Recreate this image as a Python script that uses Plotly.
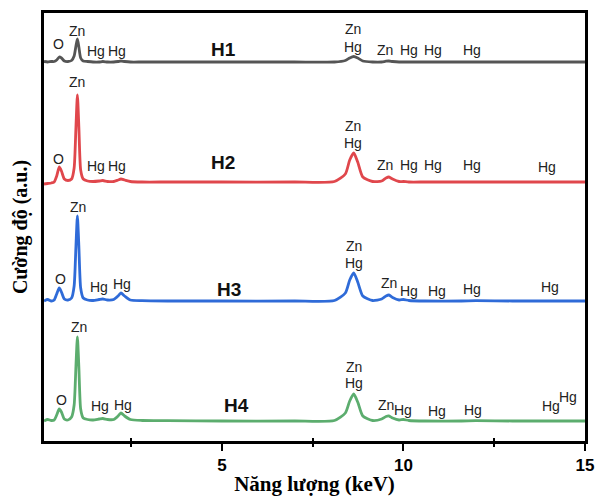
import plotly.graph_objects as go

# ---------------- data ----------------
energy_kev = [0.10, 0.20, 0.30, 0.38, 0.45, 0.52, 0.58, 0.66, 0.76, 0.86,
              0.93, 0.98, 1.02, 1.06, 1.11, 1.18, 1.30, 1.45, 1.62, 1.72,
              1.85, 2.02, 2.14, 2.22, 2.32, 2.48, 2.80, 3.50, 5.00, 7.00,
              8.10, 8.40, 8.52, 8.63, 8.74, 8.88, 9.15, 9.40, 9.52, 9.60,
              9.70, 9.88, 10.00, 10.15, 10.60, 11.60, 12.00, 13.00, 14.00, 15.00]

h1_counts = [0.5, 0, 0.5, 0.5, 2, 5, 4, 1, 0.5, 1.5,
             6, 16, 23, 15, 4, 1, 0.5, 0, 0, 0.5,
             0, 0, 0.5, 1, 0.5, 0, 0, 0, 0, 0,
             0, 1.5, 4, 5.5, 4, 1, 0, 0, 0.8, 1,
             0.5, 0, 0, 0, 0, 0, 0, 0, 0, 0]

h2_counts = [-2, -1.5, -1, 0, 6, 15, 11, 3, 1.5, 3,
             14, 55, 87, 55, 12, 3, 1, 0.5, 1, 1.5,
             0.5, 0.5, 2, 3, 2, 0.5, 0, 0, 0, 0,
             0.5, 8, 22, 29, 20, 5, 0.5, 1, 4, 5,
             3, 0.5, 0.5, 0, 0, 0, 0, 0, 0, 0]

h3_counts = [0, 1.5, 0, 1, 7, 13, 9, 2, 1, 3,
             15, 55, 85, 55, 13, 3, 1, 0.5, 1.5, 2,
             1, 1.5, 5, 8, 5, 1, 0.3, 0, 0, 0,
             0.5, 8, 21, 28, 19, 5, 0.5, 2, 5, 6,
             3.5, 1, 1.5, 0.5, 0, 0, 0.3, 0, 0, 0]

h4_counts = [0, 1.5, 0.5, 1, 6, 12, 9, 2, 1, 4,
             16, 55, 84, 54, 12, 3, 1.5, 1, 2, 2.5,
             1.5, 1.5, 5, 8, 5, 1.5, 0.5, 0.3, 0, 0,
             0.5, 8, 20, 27, 19, 5, 0.5, 2, 4.5, 5,
             3, 1, 1.5, 0.5, 0, 0, 0.3, 0, 0, 0]

sample_names = ["H1", "H2", "H3", "H4"]
sample_offsets = [379, 259, 140, 20]
sample_colors = ["#555555", "#e0474c", "#2f6bd8", "#5cad6e"]

# peak labels: (text, energy keV, height above baseline)
h1_labels = [("O", 0.49, 18), ("Zn", 1.02, 31), ("Hg", 1.54, 11), ("Hg", 2.12, 11),
             ("Zn", 8.60, 33), ("Hg", 8.60, 15), ("Zn", 9.48, 12), ("Hg", 10.16, 12),
             ("Hg", 10.82, 12), ("Hg", 11.90, 12)]
h2_labels = [("O", 0.49, 23), ("Zn", 1.02, 100), ("Hg", 1.54, 16), ("Hg", 2.12, 16),
             ("Zn", 8.60, 56), ("Hg", 8.60, 39), ("Zn", 9.48, 17), ("Hg", 10.16, 17),
             ("Hg", 10.82, 17), ("Hg", 11.90, 17), ("Hg", 13.96, 15)]
h3_labels = [("O", 0.55, 22), ("Zn", 1.04, 94), ("Hg", 1.62, 14), ("Hg", 2.25, 17),
             ("Zn", 8.65, 55), ("Hg", 8.65, 38), ("Zn", 9.59, 18), ("Hg", 10.14, 10),
             ("Hg", 10.93, 10), ("Hg", 11.90, 12), ("Hg", 14.04, 14)]
h4_labels = [("O", 0.58, 21), ("Zn", 1.07, 94), ("Hg", 1.65, 15), ("Hg", 2.28, 16),
             ("Zn", 8.63, 54), ("Hg", 8.63, 38), ("Zn", 9.53, 16), ("Hg", 10.00, 11),
             ("Hg", 10.93, 10), ("Hg", 11.92, 11), ("Hg", 14.07, 15), ("Hg", 14.53, 24)]
name_label_pos = [(5.03, 13), (5.03, 20), (5.19, 12), (5.41, 16)]

x_tick_vals = [5, 10, 15]
x_tick_text = ["5", "10", "15"]
x_minor_vals = [2.5, 7.5, 12.5]

# ---------------- figure ----------------
series = [h1_counts, h2_counts, h3_counts, h4_counts]
label_sets = [h1_labels, h2_labels, h3_labels, h4_labels]
sans = "Liberation Sans, Arial"
serif = "Liberation Serif, Times New Roman"

fig = go.Figure()
for name, counts, off, col in zip(sample_names, series, sample_offsets, sample_colors):
    fig.add_trace(go.Scatter(
        x=energy_kev, y=[c + off for c in counts], mode="lines", name=name,
        line=dict(color=col, width=2.8, shape="spline", smoothing=0.6),
        showlegend=False, hoverinfo="skip"))
# invisible trace to activate the overlay axis carrying the inner half of the minor ticks
fig.add_trace(go.Scatter(x=[energy_kev[0], energy_kev[-1]], y=[None, None], xaxis="x2",
                         mode="lines", showlegend=False, hoverinfo="skip"))

annotations = []
for labels, off in zip(label_sets, sample_offsets):
    for text, ex, hy in labels:
        annotations.append(dict(x=ex, y=off + hy, text=text, showarrow=False,
                                xref="x", yref="y",
                                font=dict(family=sans, size=14, color="#222222")))
for name, (ex, hy), off in zip(sample_names, name_label_pos, sample_offsets):
    annotations.append(dict(x=ex, y=off + hy, text=name, showarrow=False,
                            xref="x", yref="y",
                            font=dict(family=sans, size=19, color="#111111", weight="bold")))

fig.update_layout(
    width=596, height=496,
    margin=dict(l=44, r=11, t=13, b=55),
    paper_bgcolor="white", plot_bgcolor="white",
    annotations=annotations,
    xaxis=dict(range=[0.1, 15], tickvals=x_tick_vals, ticktext=x_tick_text,
               ticks="outside", ticklen=7, tickwidth=2, tickcolor="black",
               minor=dict(tickvals=x_minor_vals, ticks="outside", ticklen=3,
                          tickwidth=2, tickcolor="black"),
               showline=True, linewidth=2.5, linecolor="black", mirror=True,
               showgrid=False, zeroline=False, automargin=False,
               tickfont=dict(family=sans, size=17, color="black", weight="bold"),
               title=dict(text="Năng lượng (keV)", standoff=4,
                          font=dict(family=serif, size=21, color="black", weight="bold"))),
    xaxis2=dict(range=[0.1, 15], overlaying="x", side="bottom", showticklabels=False,
                tickvals=x_minor_vals, ticks="inside", ticklen=3, tickwidth=2,
                tickcolor="black", showgrid=False, zeroline=False, showline=False,
                automargin=False),
    yaxis=dict(range=[0, 428], showticklabels=False, ticks="", showgrid=False,
               zeroline=False, showline=True, linewidth=2.5, linecolor="black", mirror=True,
               automargin=False,
               title=dict(text="Cường độ (a.u.)", standoff=9,
                          font=dict(family=serif, size=20, color="black", weight="bold"))),
)

# remove the browser's default 8 px body margin so the figure fills the window exactly
fig.write_html("out.html", config={"displayModeBar": False},
               post_script="document.body.style.margin='0';document.body.style.overflow='hidden';")
